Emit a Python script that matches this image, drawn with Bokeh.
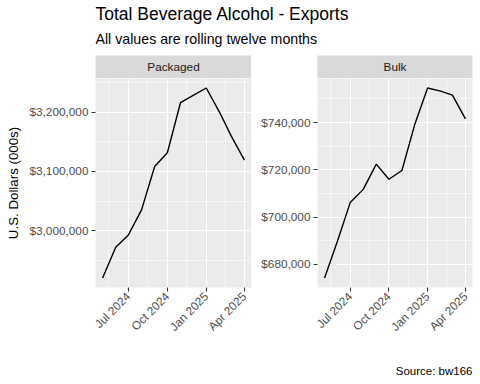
import math
import pandas as pd
from bokeh.plotting import figure
from bokeh.models import (Range1d, FixedTicker, NumeralTickFormatter,
                          DatetimeTickFormatter, ColumnDataSource)
from bokeh.layouts import column, row
from bokeh.core.properties import value
from bokeh.embed import file_html
from bokeh.resources import INLINE

# ---------------- data ----------------
months = ["2024-05-01", "2024-06-01", "2024-07-01", "2024-08-01", "2024-09-01",
          "2024-10-01", "2024-11-01", "2024-12-01", "2025-01-01", "2025-02-01",
          "2025-03-01", "2025-04-01"]
packaged = [2919800, 2971700, 2992700, 3035100, 3108500, 3131700,
            3216300, 3228800, 3241200, 3200500, 3159700, 3119200]
bulk = [674200, 690000, 706100, 711700, 722400, 716000,
        719700, 738900, 754600, 753300, 751600, 741500]

panel_names = ["Packaged", "Bulk"]
x_major = ["2024-07-01", "2024-10-01", "2025-01-01", "2025-04-01"]
x_minor = ["2024-05-16", "2024-08-16", "2024-11-16", "2025-02-15"]
packaged_major = [3000000, 3100000, 3200000]
packaged_minor = [2950000, 3050000, 3150000, 3250000]
bulk_major = [680000, 700000, 720000, 740000]
bulk_minor = [670000, 690000, 710000, 730000, 750000]

title_text = "Total Beverage Alcohol - Exports"
subtitle_text = "All values are rolling twelve months"
y_title = "U.S. Dollars (000s)"
caption_text = "Source: bw166"

FONT = "Liberation Sans"
PANEL_BG = "#EBEBEB"
STRIP_BG = "#D9D9D9"
TOTAL_W = 480
TICK_FS = "11.8px"


def ms(d):
    return pd.Timestamp(d).value / 1e6


dates = pd.to_datetime(months)
x_ms = [ms(d) for d in months]
xspan = max(x_ms) - min(x_ms)


def x_range():
    return Range1d(min(x_ms) - 0.05 * xspan, max(x_ms) + 0.05 * xspan)


def y_range(vals):
    lo, hi = min(vals), max(vals)
    pad = 0.05 * (hi - lo)
    return Range1d(lo - pad, hi + pad)


def style_yaxis(ax, major, minor, label):
    ax.ticker = FixedTicker(ticks=major, minor_ticks=minor)
    ax.formatter = NumeralTickFormatter(format="$0,0")
    ax.axis_line_color = None
    ax.major_tick_line_color = "#333333"
    ax.major_tick_line_width = 1.1
    ax.major_tick_out = 4
    ax.major_tick_in = 0
    ax.minor_tick_line_color = None
    ax.major_label_text_font = FONT
    ax.major_label_text_font_size = TICK_FS
    ax.major_label_text_color = "#4D4D4D"
    ax.major_label_standoff = 3
    if label:
        ax.axis_label = label
        ax.axis_label_text_font = FONT
        ax.axis_label_text_font_size = "13.3px"
        ax.axis_label_text_font_style = "normal"
        ax.axis_label_text_color = "black"
        ax.axis_label_standoff = 5


def make_panel(name, vals, major, minor, border_left, border_right, frame_w, label):
    xr = x_range()
    yr = y_range(vals)

    # strip (facet label)
    s = figure(x_range=xr, y_range=Range1d(0, 1), frame_width=frame_w,
               frame_height=23, min_border_left=border_left,
               min_border_right=border_right, min_border_top=0,
               min_border_bottom=0, x_axis_location=None,
               y_axis_location=None, title=None,
               background_fill_color=STRIP_BG, border_fill_color="white",
               outline_line_color=None, output_backend="svg",
               toolbar_location=None)
    s.grid.visible = False
    s.text(x=[(xr.start + xr.end) / 2], y=[0.5], text=[name],
           text_font=value(FONT), text_font_size=value("11.8px"),
           text_color="#1A1A1A", text_align="center", text_baseline="middle")

    # panel
    src = ColumnDataSource(dict(date=dates, v=vals))
    p = figure(x_axis_type="datetime", x_range=xr, y_range=yr,
               frame_width=frame_w, frame_height=209,
               min_border_left=border_left, min_border_right=border_right,
               min_border_top=0, min_border_bottom=65, title=None,
               background_fill_color=PANEL_BG, border_fill_color="white",
               outline_line_color=None, output_backend="svg",
               toolbar_location=None)
    xt = FixedTicker(ticks=[ms(d) for d in x_major],
                     minor_ticks=[ms(d) for d in x_minor])
    p.xaxis.ticker = xt
    p.xgrid.ticker = xt
    fmt = "%b %Y"
    p.xaxis.formatter = DatetimeTickFormatter(days=fmt, months=fmt, years=fmt)
    p.xaxis.axis_line_color = None
    p.xaxis.major_tick_line_color = "#333333"
    p.xaxis.major_tick_line_width = 1.1
    p.xaxis.major_tick_out = 4
    p.xaxis.major_tick_in = 0
    p.xaxis.minor_tick_line_color = None
    p.xaxis.major_label_orientation = math.pi / 4
    p.xaxis.major_label_text_font = FONT
    p.xaxis.major_label_text_font_size = TICK_FS
    p.xaxis.major_label_text_color = "#4D4D4D"
    p.xaxis.major_label_standoff = 3

    style_yaxis(p.yaxis[0], major, minor, label)
    p.ygrid.ticker = FixedTicker(ticks=major, minor_ticks=minor)

    for g in (p.xgrid[0], p.ygrid[0]):
        g.grid_line_color = "white"
        g.grid_line_width = 1.1
        g.minor_grid_line_color = "white"
        g.minor_grid_line_width = 0.55

    p.line(x="date", y="v", source=src, line_color="black", line_width=1.4)
    return column(s, p, spacing=0)


# left panel frame: x 95..251 ; right panel frame: x 317..472
left = make_panel(panel_names[0], packaged, packaged_major, packaged_minor,
                  95, 0, 156, y_title)
right = make_panel(panel_names[1], bulk, bulk_major, bulk_minor,
                   66, 8, 155, None)


def text_fig(h):
    f = figure(x_range=Range1d(0, TOTAL_W), y_range=Range1d(h, 0),
               frame_width=TOTAL_W, frame_height=h, min_border=0, title=None,
               x_axis_location=None, y_axis_location=None,
               outline_line_color=None, background_fill_color="white",
               border_fill_color="white", output_backend="svg",
               toolbar_location=None)
    f.grid.visible = False
    return f


header = text_fig(55)
header.text(x=[95], y=[13.5], text=[title_text], text_font=value(FONT),
            text_font_size=value("17.5px"), text_color="black",
            text_align="left", text_baseline="middle")
header.text(x=[95], y=[38], text=[subtitle_text], text_font=value(FONT),
            text_font_size=value("14.2px"), text_color="black",
            text_align="left", text_baseline="middle")

footer = text_fig(32)
footer.text(x=[472], y=[18.5], text=[caption_text], text_font=value(FONT),
            text_font_size=value("11.5px"), text_color="black",
            text_align="right", text_baseline="middle")

layout = column(header, row(left, right, spacing=0), footer, spacing=0)

open("out.html", "w").write(file_html(layout, INLINE))
